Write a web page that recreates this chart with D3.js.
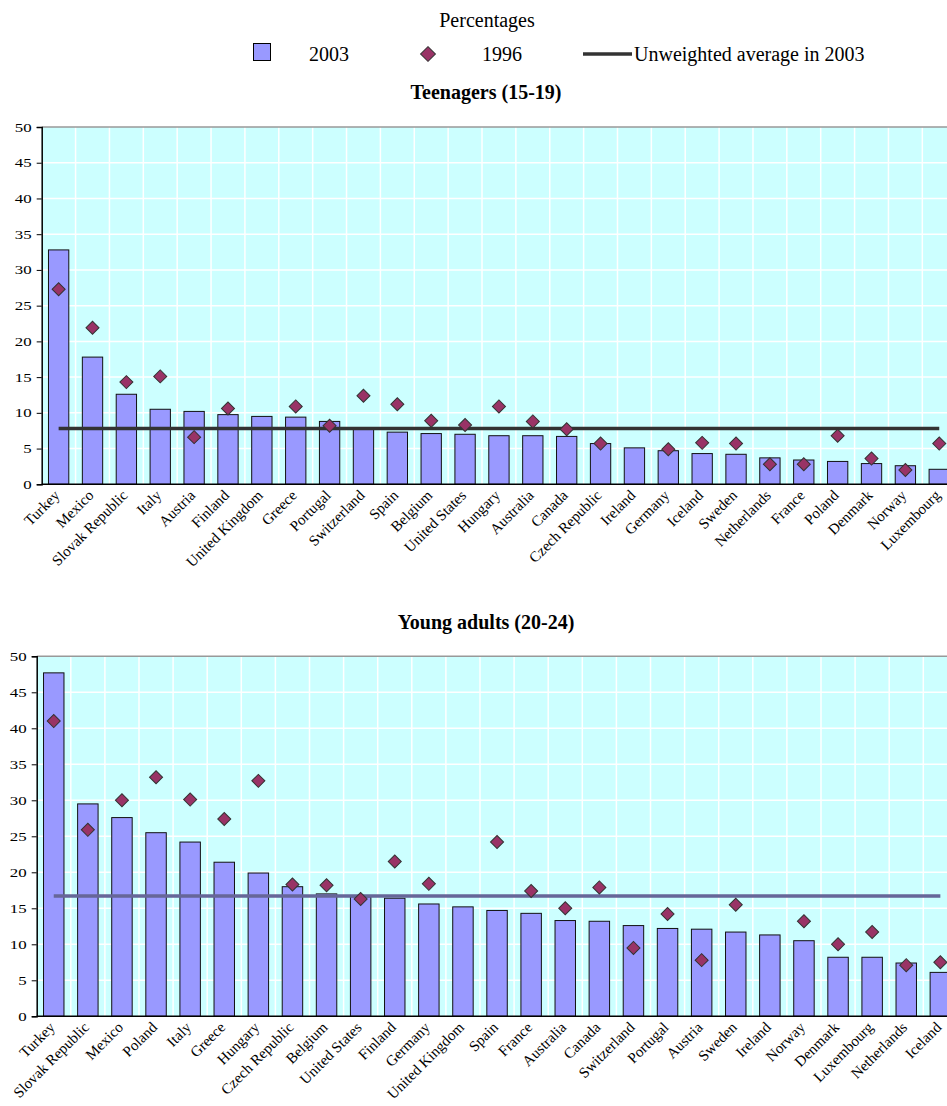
<!DOCTYPE html>
<html><head><meta charset="utf-8">
<script src="https://cdn.jsdelivr.net/npm/d3@7"></script>
<style>
body{margin:0;background:#fff;}
svg{display:block;font-family:"Liberation Serif","Times New Roman",serif;}
svg text{font-family:"Liberation Serif","Times New Roman",serif;}
</style></head>
<body><svg id="c" width="947" height="1106"></svg>
<script>
const teenCategories = ["Turkey","Mexico","Slovak Republic","Italy","Austria","Finland","United Kingdom","Greece","Portugal","Switzerland","Spain","Belgium","United States","Hungary","Australia","Canada","Czech Republic","Ireland","Germany","Iceland","Sweden","Netherlands","France","Poland","Denmark","Norway","Luxembourg"];
const teen2003 = [32.8,17.8,12.6,10.5,10.2,9.75,9.5,9.4,8.8,7.9,7.3,7.1,7.0,6.8,6.8,6.7,5.7,5.1,4.7,4.3,4.2,3.7,3.4,3.2,2.9,2.6,2.1];
const teen1996 = [27.3,21.9,14.3,15.1,6.6,10.6,null,10.9,8.2,12.4,11.2,8.9,8.3,10.9,8.8,7.7,5.7,null,4.9,5.8,5.7,2.8,2.8,6.8,3.6,2.0,5.7];
const teenAverage = 7.8;

const youngCategories = ["Turkey","Slovak Republic","Mexico","Poland","Italy","Greece","Hungary","Czech Republic","Belgium","United States","Finland","Germany","United Kingdom","Spain","France","Australia","Canada","Switzerland","Portugal","Austria","Sweden","Ireland","Norway","Denmark","Luxembourg","Netherlands","Iceland"];
const young2003 = [47.7,29.5,27.6,25.5,24.2,21.4,19.9,18.0,17.0,16.6,16.4,15.6,15.2,14.7,14.3,13.3,13.2,12.6,12.2,12.1,11.7,11.3,10.5,8.2,8.2,7.4,6.1];
const young1996 = [41.0,25.9,30.0,33.2,30.1,27.4,32.7,18.3,18.2,16.3,21.5,18.4,null,24.2,17.4,15.0,17.9,9.5,14.2,7.8,15.5,null,13.2,10.0,11.7,7.1,7.5];
const youngAverage = 16.7;

const yTicks = [0,5,10,15,20,25,30,35,40,45,50];
const legendLabels = ["2003","1996","Unweighted average in 2003"];

const svg = d3.select("#c");
const BAR = "#9999FF", DIA = "#993366", BG = "#CCFFFF";

svg.append("text").attr("x",487).attr("y",27).attr("text-anchor","middle")
  .style("font-size","20px").text("Percentages");

// legend
const lg = svg.append("g");
lg.append("rect").attr("x",253.5).attr("y",43.5).attr("width",17).attr("height",17)
  .attr("fill",BAR).attr("stroke","#000");
lg.append("text").attr("x",329).attr("y",61).attr("text-anchor","middle").style("font-size","20px").text(legendLabels[0]);
lg.append("path").attr("d",d3.symbol(d3.symbolSquare,110)()).attr("transform","translate(428,54) rotate(45)")
  .attr("fill",DIA).attr("stroke","#333").attr("stroke-width",1);
lg.append("text").attr("x",502).attr("y",61).attr("text-anchor","middle").style("font-size","20px").text(legendLabels[1]);
lg.append("line").attr("x1",583).attr("x2",632).attr("y1",54).attr("y2",54).attr("stroke","#333").attr("stroke-width",3.5);
lg.append("text").attr("x",634).attr("y",61).style("font-size","20px").text(legendLabels[2]);

function chart(opts){
  const {cats, v2003, v1996, avg, left, top, bottom, step, title, titleY, avgColor} = opts;
  const n = cats.length;
  const right = left + n*step;
  const g = svg.append("g");
  const x = d3.scaleBand().domain(cats).range([left,right]).paddingInner(0.4).paddingOuter(0.2);
  const y = d3.scaleLinear().domain([0,50]).range([bottom,top]);

  g.append("text").attr("x",486).attr("y",titleY).attr("text-anchor","middle")
    .style("font-size","20px").style("font-weight","bold").text(title);

  g.append("rect").attr("x",left).attr("y",top).attr("width",right-left).attr("height",bottom-top).attr("fill",BG);
  // grid
  g.append("g").selectAll("line").data(yTicks.slice(1,-1)).join("line")
    .attr("x1",left).attr("x2",right).attr("y1",d=>y(d)).attr("y2",d=>y(d))
    .attr("stroke","#fff").attr("stroke-width",1.5);
  g.append("g").selectAll("line").data(d3.range(1,n)).join("line")
    .attr("x1",i=>left+i*x.step()).attr("x2",i=>left+i*x.step()).attr("y1",top).attr("y2",bottom)
    .attr("stroke","#fff").attr("stroke-width",1.5);
  g.append("line").attr("x1",left).attr("x2",right).attr("y1",top).attr("y2",top).attr("stroke","#999").attr("stroke-width",1.5);

  // bars
  g.append("g").selectAll("rect").data(cats).join("rect")
    .attr("x",d=>x(d)).attr("width",x.bandwidth())
    .attr("y",(d,i)=>y(v2003[i])).attr("height",(d,i)=>y(0)-y(v2003[i]))
    .attr("fill",BAR).attr("stroke","#111").attr("stroke-width",1);

  // average line
  g.append("line").attr("x1",x(cats[0])+x.bandwidth()/2).attr("x2",x(cats[n-1])+x.bandwidth()/2)
    .attr("y1",y(avg)).attr("y2",y(avg)).attr("stroke",avgColor).attr("stroke-width",3.5);

  // diamonds
  const sym = d3.symbol(d3.symbolSquare,85)();
  g.append("g").selectAll("path").data(cats.map((c,i)=>({c,v:v1996[i]})).filter(d=>d.v!=null)).join("path")
    .attr("d",sym)
    .attr("transform",d=>`translate(${x(d.c)+x.bandwidth()/2},${y(d.v)}) rotate(45)`)
    .attr("fill",DIA).attr("stroke","#333").attr("stroke-width",1);

  // y axis
  const ya = g.append("g").attr("transform",`translate(${left},0)`)
    .call(d3.axisLeft(y).tickValues(yTicks).tickSize(5).tickFormat(""));
  ya.select(".domain").attr("stroke","#000").attr("stroke-width",1.5);
  ya.selectAll(".tick line").attr("stroke","#000");
  g.append("g").selectAll("text").data(yTicks).join("text")
    .attr("transform",d=>`translate(${left-10},${y(d)+4.5}) scale(1.35,1)`)
    .attr("text-anchor","end").style("font-size","12.5px").text(d=>d);

  // x axis
  g.append("line").attr("x1",left).attr("x2",right).attr("y1",bottom).attr("y2",bottom).attr("stroke","#000").attr("stroke-width",1.5);
  g.append("g").selectAll("text").data(cats).join("text")
    .attr("transform",d=>`translate(${x(d)+x.bandwidth()/2+2},${bottom+12}) rotate(-45)`)
    .attr("text-anchor","end").style("font-size","15px").text(d=>d);
}

chart({cats:teenCategories, v2003:teen2003, v1996:teen1996, avg:teenAverage,
  left:41.7, top:127, bottom:484.3, step:33.87, title:"Teenagers (15-19)", titleY:99, avgColor:"#333333"});
chart({cats:youngCategories, v2003:young2003, v1996:young1996, avg:youngAverage,
  left:36.7, top:656.3, bottom:1016.3, step:34.1, title:"Young adults (20-24)", titleY:629, avgColor:"#666699"});
</script></body></html>
